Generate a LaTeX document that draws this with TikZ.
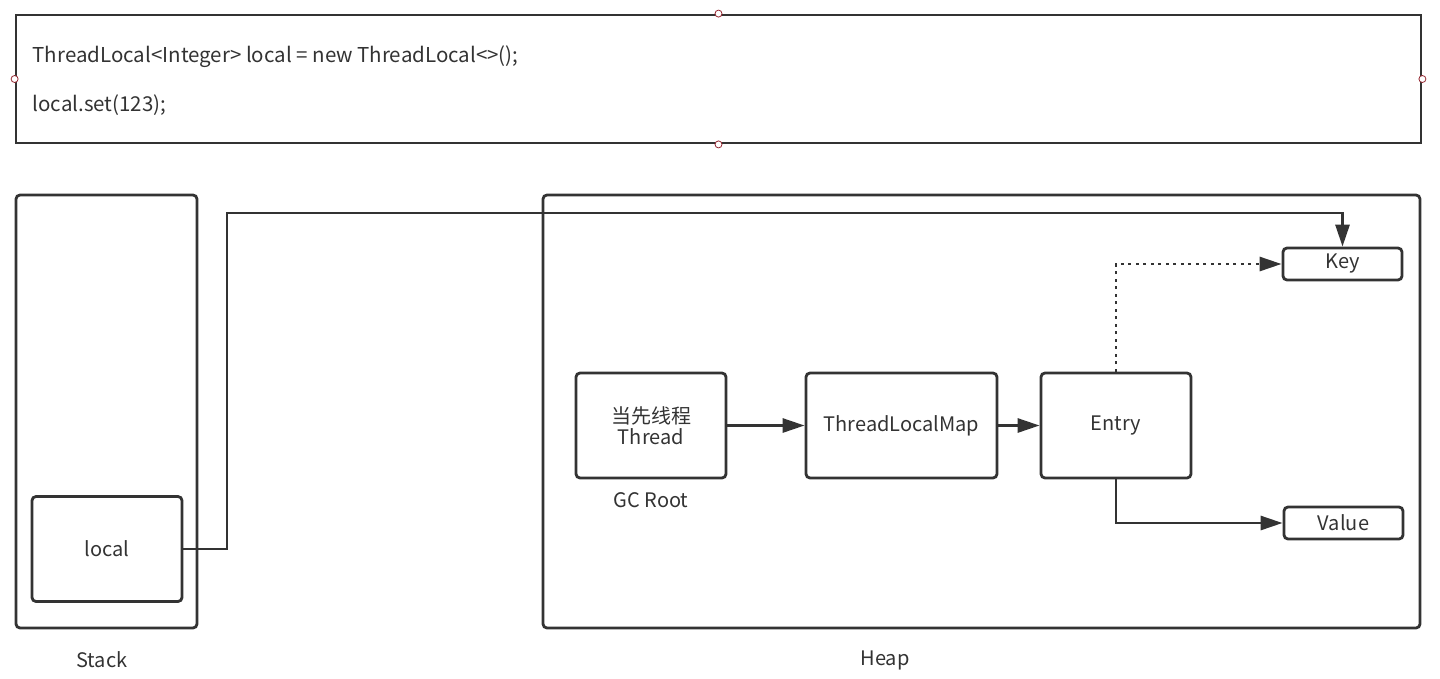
\documentclass[tikz,border=0pt]{standalone}
\usepackage{fontspec}
\setmainfont{Noto Sans CJK SC}
\usetikzlibrary{arrows.meta}
\definecolor{ink}{HTML}{333333}
\definecolor{handlered}{RGB}{150,40,50}

\begin{document}
\begin{tikzpicture}
	[x=1pt, y=-1pt,
	every node/.style={font=\fontsize{20}{23}\selectfont, text=ink},
	box/.style={draw=ink, line width=2.8pt, rounded corners=4pt, inner sep=0pt, align=center},
	frame/.style={box, minimum width=181pt, minimum height=433pt},
	obj/.style={box, minimum width=150pt, minimum height=105pt},
	field/.style={box, minimum width=119pt, minimum height=32pt},
	handle/.style={draw=handlered, fill=white, circle, inner sep=0pt, minimum size=7pt, line width=0.8pt},
	link/.style={draw=ink, line width=2.8pt, -{Triangle[length=22pt, width=14pt]}}]
	\useasboundingbox (0,0) rectangle (1440,678);
	% code box
	\node[draw=ink, line width=2.8pt, inner sep=0pt, minimum width=1405pt, minimum height=128pt] (code) at (718.5,79) {};
	\node[anchor=west, font=\fontsize{20.5}{23}\selectfont] (line1) at (29,57) {ThreadLocal<Integer> local = new ThreadLocal<>();};
	\node[anchor=west, font=\fontsize{20.5}{23}\selectfont] (line2) at (29,105) {local.set(123);};
	\foreach \a in {north,south,east,west}
		\node[handle] at (code.\a) {};
	% stack and heap
	\node[frame] (stack) at (106.5,411.5) {};
	\node[frame, minimum width=877pt] (heap) at (981.5,411.5) {};
	\node (stacklabel) at (102,660) {Stack};
	\node (heaplabel) at (885,660) {Heap};
	\node[obj] (local) at (107,549) {local};
	\node[obj] (thread) at (651,425.5) {当先线程\\[-2pt]Thread};
	\node (gcroot) at (651,500) {GC Root};
	\node[obj, minimum width=191pt] (map) at (901.5,425.5) {ThreadLocalMap};
	\node[obj] (entry) at (1116,425.5) {Entry};
	\node[field] (key) at (1342.5,264) {Key};
	\node[field] (value) at (1343.5,523) {Value};
	% references
	\coordinate (bend) at (227,213);
	\draw[link] (local.east) -| (bend) -| (key.north);
	\draw[link] (thread) -- (map);
	\draw[link] (map) -- (entry);
	\draw[link, dash pattern=on 3pt off 4.5pt] (entry.north) |- (key.west);
	\draw[link] (entry.south) |- (value.west);
\end{tikzpicture}
\end{document}
